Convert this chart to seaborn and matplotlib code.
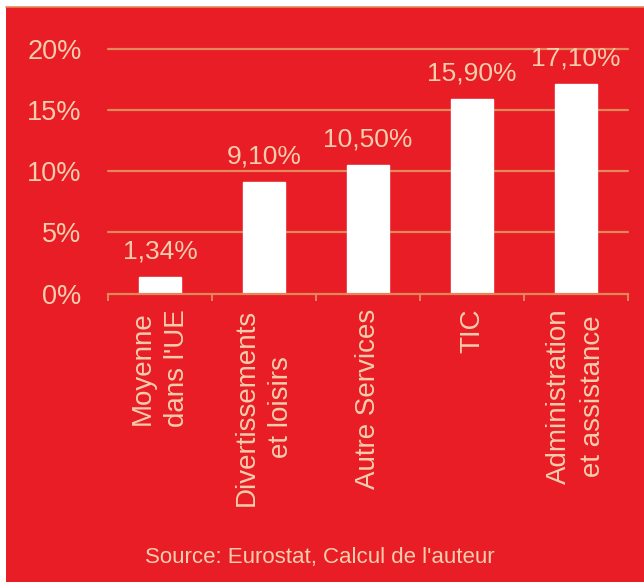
import matplotlib
matplotlib.use("Agg")
import matplotlib.pyplot as plt
import seaborn as sns
from matplotlib.patches import Rectangle
from matplotlib.lines import Line2D

# Part des emplois par secteur (en %)
categories = ["Moyenne\ndans l'UE", "Divertissements\net loisirs", "Autre Services",
              "TIC", "Administration\net assistance"]
values = [1.34, 9.10, 10.50, 15.90, 17.10]
y_ticks = [0, 5, 10, 15, 20]
y_tick_labels = ["0%", "5%", "10%", "15%", "20%"]
source_text = "Source: Eurostat, Calcul de l'auteur"

RED = "#E81D25"
TEXT = "#F7CDAE"
GRID = "#E4875A"

sns.set_theme(style="white")
plt.rcParams["font.family"] = ["Liberation Sans", "DejaVu Sans"]

fig = plt.figure(figsize=(6.44, 5.82), dpi=100, facecolor="white")

# red panel with a thin white margin on the left and top
fig.patches.append(Rectangle((6 / 644, 0), 1, (582 - 7) / 582,
                             transform=fig.transFigure, facecolor=RED,
                             edgecolor="none", zorder=-10))
fig.lines.append(Line2D([6 / 644, 1], [(582 - 6.5) / 582] * 2,
                        transform=fig.transFigure, color=GRID, lw=1.2, zorder=-9))

ax = fig.add_axes([108 / 644, (582 - 293.5) / 582, 520 / 644, 244.5 / 582])
ax.set_facecolor("none")

sns.barplot(x=categories, y=values, color="white", saturation=1, width=0.4,
            ax=ax, zorder=3)

ax.set_ylim(0, 20)
ax.set_xlim(-0.5, len(categories) - 0.5)
ax.set_yticks(y_ticks)
ax.set_yticklabels(y_tick_labels)

for y in y_ticks[1:]:
    ax.axhline(y, color=GRID, lw=1.6, zorder=1, clip_on=False)

for s in ["top", "right", "left"]:
    ax.spines[s].set_visible(False)
ax.spines["bottom"].set_color(GRID)
ax.spines["bottom"].set_linewidth(1.6)
ax.spines["bottom"].set_zorder(4)

# tick marks at category boundaries
ax.set_xticks([i - 0.5 for i in range(len(categories) + 1)], minor=True)
ax.tick_params(axis="x", which="minor", bottom=True, length=5, width=1.4,
               color=GRID, direction="out")
ax.tick_params(axis="x", which="major", length=0, pad=11)
ax.tick_params(axis="y", length=0, pad=19, labelsize=19.5, labelcolor=TEXT)

ax.set_xticks(range(len(categories)))
ax.set_xticklabels(categories, rotation=90, ha="center", va="top",
                   multialignment="center", fontsize=20, color=TEXT,
                   linespacing=1.4)
ax.set_xlabel("")
ax.set_ylabel("")

labels = [f"{v:.2f}".replace(".", ",") + "%" for v in values]
ax.bar_label(ax.containers[0], labels=labels, padding=10, fontsize=19,
             color=TEXT, clip_on=False)

fig.text(320 / 644, (582 - 557) / 582, source_text, ha="center", va="center",
         fontsize=16, color=TEXT)

fig.savefig("out.png", dpi=100, facecolor=fig.get_facecolor())
